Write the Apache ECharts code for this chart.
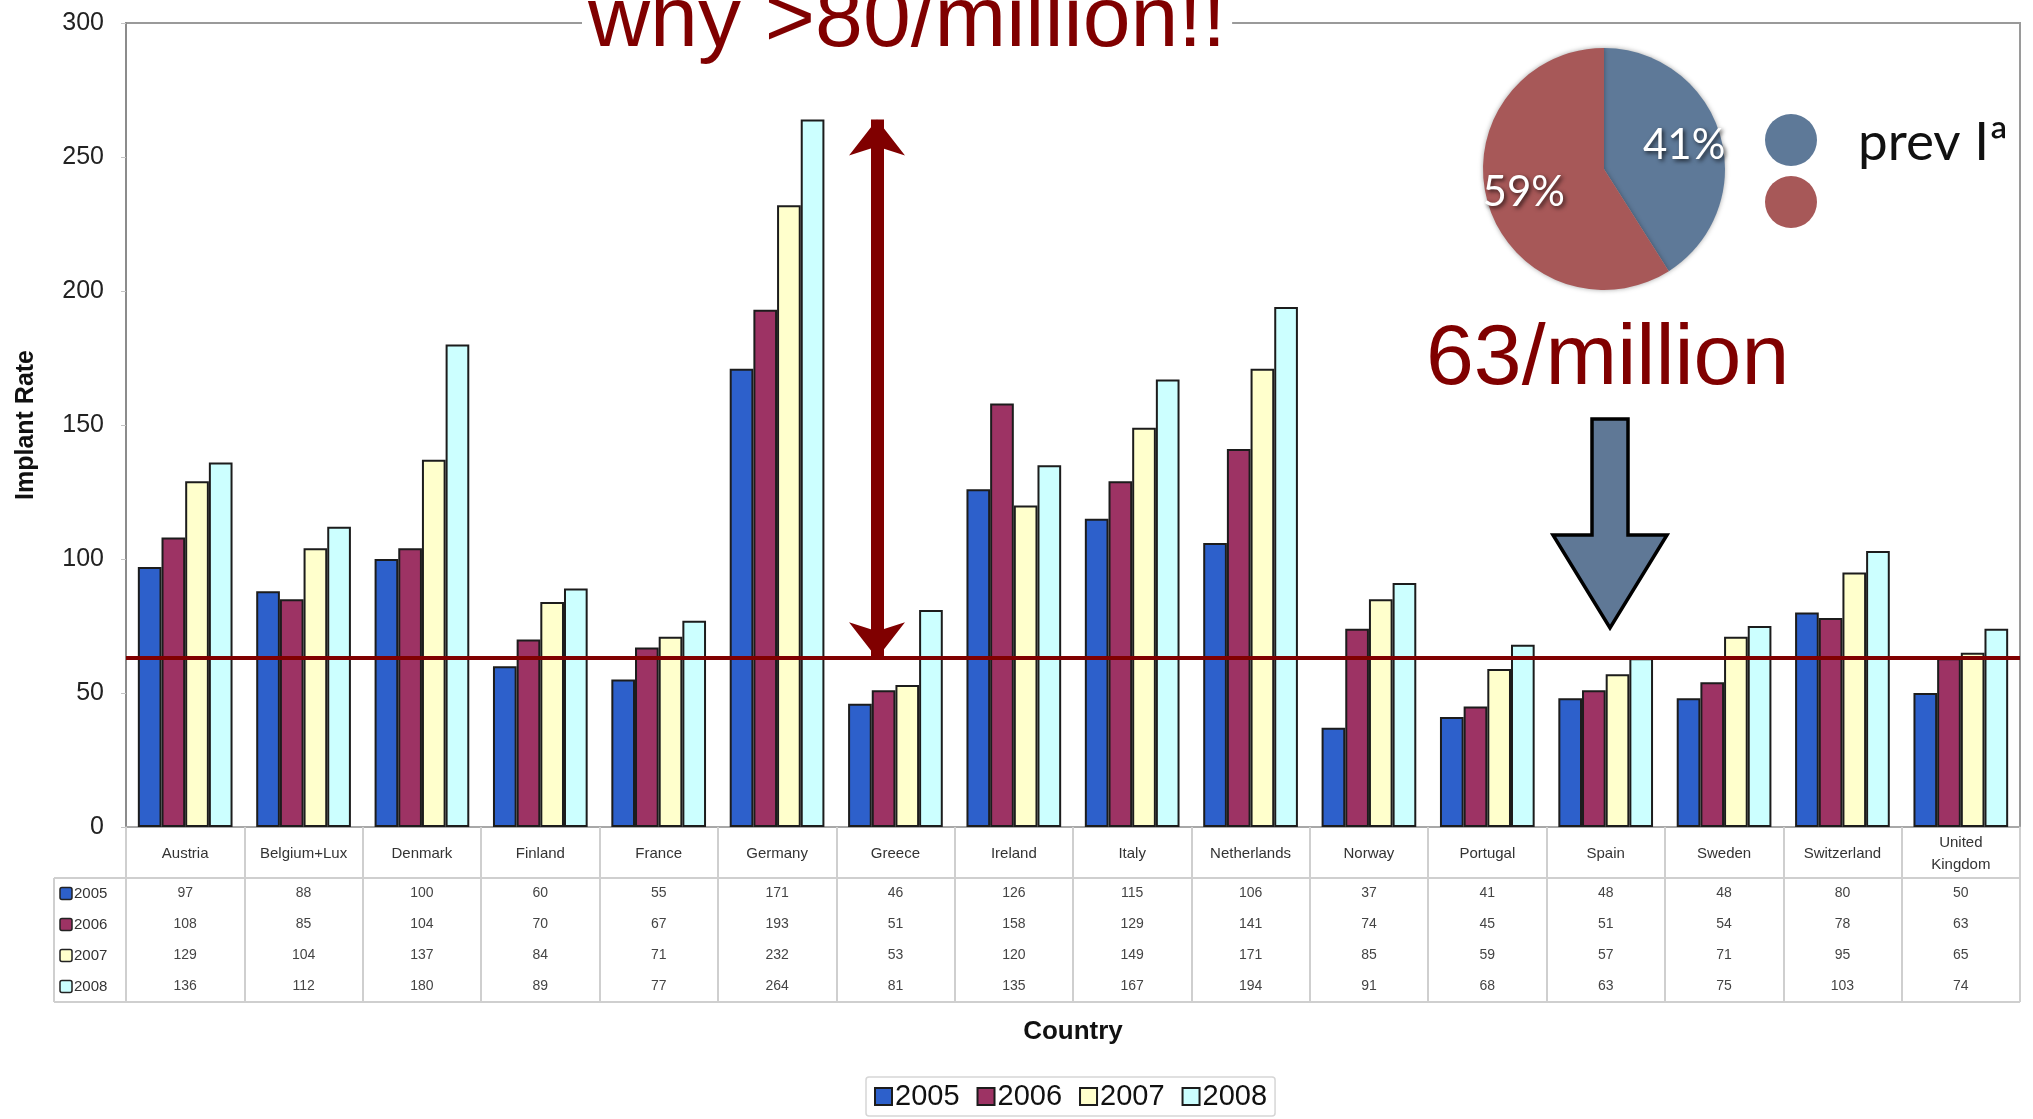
<!DOCTYPE html>
<html>
<head>
<meta charset="utf-8">
<title>Implant Rate by Country</title>
<script src="https://cdn.jsdelivr.net/npm/echarts@6/dist/echarts.min.js"></script>
<style>
  html, body { margin: 0; padding: 0; background: #fff; }
  #chart { width: 2033px; height: 1119px; }
</style>
</head>
<body>
<div id="chart"></div>
<script>
// Implant rate per million, by country and year
const countries = ['Austria', 'Belgium+Lux', 'Denmark', 'Finland', 'France', 'Germany', 'Greece',
  'Ireland', 'Italy', 'Netherlands', 'Norway', 'Portugal', 'Spain', 'Sweden', 'Switzerland', 'United\nKingdom'];
const years = ['2005', '2006', '2007', '2008'];
const rate2005 = [97, 88, 100, 60, 55, 171, 46, 126, 115, 106, 37, 41, 48, 48, 80, 50];
const rate2006 = [108, 85, 104, 70, 67, 193, 51, 158, 129, 141, 74, 45, 51, 54, 78, 63];
const rate2007 = [129, 104, 137, 84, 71, 232, 53, 120, 149, 171, 85, 59, 57, 71, 95, 65];
const rate2008 = [136, 112, 180, 89, 77, 264, 81, 135, 167, 194, 91, 68, 63, 75, 103, 74];
const rates = [rate2005, rate2006, rate2007, rate2008];

// value axis ticks
const yMin = 0, yMax = 300, yStep = 50;

// reference level and the gap annotation
const benchmark = 63;
const peakRate = Math.max(...rate2008);
const gapCountryIndex = countries.indexOf('Greece');

// inset pie: share of primary prevention
const pieNames = ['prev Iª', 'other'];
const pieShares = [41, 59];

// ---- styling ----
const yearColors = ['#2d60cb', '#9d3364', '#ffffcc', '#ccffff'];
const pieColors = ['#5e7998', '#a75858'];
const darkRed = '#800000';
const sansFont = '"Liberation Sans", Arial, sans-serif';

const G = { left: 126, right: 13, top: 23, bottom: 292 };
const W = 2033, H = 1119;
const plotBottom = H - G.bottom;      // 827
const headerBottom = plotBottom + 51; // 878
const rowH = 31;
const tableBottom = headerBottom + rowH * 4; // 1002
const tableLeft = 54;
const plotRight = W - G.right;

const chart = echarts.init(document.getElementById('chart'), null, { renderer: 'canvas' });

const series = years.map((y, i) => ({
  name: y,
  type: 'bar',
  xAxisIndex: 0,
  data: rates[i],
  barGap: '0%',
  barCategoryGap: '20%',
  itemStyle: { color: yearColors[i], borderColor: '#1c1c1c', borderWidth: 2 },
  emphasis: { disabled: true }
}));

// horizontal reference line
series[0].markLine = {
  silent: true,
  symbol: 'none',
  label: { show: false },
  lineStyle: { color: darkRed, width: 4, type: 'solid' },
  data: [{ yAxis: benchmark }]
};

// double-headed arrow spanning the gap
series[3].markLine = {
  silent: true,
  symbol: ['arrow', 'arrow'],
  symbolSize: [42, 36],
  label: { show: false },
  lineStyle: { color: darkRed, width: 13, type: 'solid', opacity: 1 },
  itemStyle: { color: darkRed },
  data: [[
    { coord: [gapCountryIndex, peakRate], x: 877 },
    { coord: [gapCountryIndex, benchmark], x: 877 }
  ]]
};

// inset pie
series.push({
  type: 'pie',
  silent: true,
  center: [1604, 169],
  radius: 121,
  startAngle: 90,
  clockwise: true,
  label: { show: false },
  labelLine: { show: false },
  emphasis: { disabled: true },
  itemStyle: { borderWidth: 0, shadowColor: 'rgba(0,0,0,0.35)', shadowBlur: 5 },
  data: pieNames.map((n, i) => ({ name: n, value: pieShares[i], itemStyle: { color: pieColors[i] } }))
});
series.push({
  type: 'pie',
  silent: true,
  center: [1604, 169],
  radius: [40, 121],
  startAngle: 90,
  clockwise: true,
  itemStyle: { color: 'rgba(0,0,0,0)' },
  emphasis: { disabled: true },
  labelLine: { show: false },
  label: {
    show: true,
    position: 'inside',
    formatter: p => p.value + '%',
    color: '#fff',
    fontFamily: 'Lato, "Open Sans", sans-serif',
    fontSize: 42,
    textShadowColor: 'rgba(0,0,0,0.7)',
    textShadowBlur: 4,
    textShadowOffsetX: 2,
    textShadowOffsetY: 2
  },
  data: pieNames.map((n, i) => ({ name: n, value: pieShares[i] }))
});

// table row labels and rules
const tableGraphics = [
  { type: 'line', shape: { x1: tableLeft, y1: headerBottom, x2: plotRight, y2: headerBottom }, style: { stroke: '#cfcfcf', lineWidth: 2 } },
  { type: 'line', shape: { x1: tableLeft, y1: tableBottom, x2: plotRight, y2: tableBottom }, style: { stroke: '#cfcfcf', lineWidth: 2 } },
  { type: 'line', shape: { x1: tableLeft, y1: headerBottom, x2: tableLeft, y2: tableBottom }, style: { stroke: '#cfcfcf', lineWidth: 2 } }
];
years.forEach((y, i) => {
  const cy = headerBottom + rowH * i + rowH / 2;
  tableGraphics.push({
    type: 'rect', shape: { x: 60, y: cy - 6, width: 12, height: 12, r: 2 },
    style: { fill: yearColors[i], stroke: '#222', lineWidth: 1.5 }
  });
  tableGraphics.push({
    type: 'text', x: 74, y: cy,
    style: { text: y, fill: '#333', font: '15px ' + sansFont, verticalAlign: 'middle', align: 'left' }
  });
});

const option = {
  animation: false,
  backgroundColor: '#fff',
  textStyle: { fontFamily: sansFont },
  grid: { left: G.left, right: G.right, top: G.top, bottom: G.bottom, show: true, borderColor: '#9a9a9a', borderWidth: 2, containLabel: false },
  legend: {
    data: years,
    left: 866,
    top: 1077,
    padding: [5, 8],
    itemWidth: 17,
    itemHeight: 17,
    itemGap: 17,
    icon: 'rect',
    borderColor: '#d6d6d6',
    borderWidth: 1.5,
    borderRadius: 3,
    selectedMode: false,
    textStyle: { fontSize: 29, color: '#111', fontFamily: sansFont, padding: [0, 0, 0, -2] }
  },
  xAxis: [
    {
      type: 'category',
      data: countries,
      name: 'Country',
      nameLocation: 'middle',
      nameGap: 192,
      nameTextStyle: { fontSize: 26, fontWeight: 'bold', color: '#111' },
      axisLine: { lineStyle: { color: '#a8a8a8', width: 2 } },
      axisTick: { show: true, length: tableBottom - plotBottom, lineStyle: { color: '#cfcfcf', width: 2 } },
      axisLabel: {
        interval: 0, margin: 27, fontSize: 15, color: '#333', lineHeight: 22,
        verticalAlign: 'middle', hideOverlap: false
      }
    },
    {
      type: 'category',
      data: countries,
      position: 'bottom',
      axisLine: { show: false },
      axisTick: { show: false },
      axisLabel: {
        interval: 0, margin: 51, fontSize: 14, color: '#444', lineHeight: rowH,
        verticalAlign: 'top', hideOverlap: false,
        formatter: (v, idx) => rates.map(r => r[idx]).join('\n')
      }
    }
  ],
  yAxis: {
    type: 'value',
    min: yMin, max: yMax, interval: yStep,
    name: 'Implant Rate',
    nameLocation: 'middle',
    nameRotate: 90,
    nameGap: 87,
    nameTextStyle: { fontSize: 25, fontWeight: 'bold', color: '#111' },
    axisLine: { show: true, lineStyle: { color: '#8c8c8c', width: 2 } },
    axisTick: { show: true, length: 5, lineStyle: { color: '#c4c4c4' } },
    splitLine: { show: false },
    axisLabel: { fontSize: 25, color: '#222', margin: 22 }
  },
  graphic: [
    {
      type: 'text', x: 582, y: 22, z: 100,
      style: {
        text: 'why >80/million!!', fill: darkRed, font: '86px ' + sansFont,
        verticalAlign: 'middle', align: 'left', backgroundColor: '#fff', padding: [0, 6]
      }
    },
    {
      type: 'text', x: 1426, y: 360, z: 100,
      style: { text: '63/million', fill: darkRed, font: '86px ' + sansFont, verticalAlign: 'middle', align: 'left' }
    },
    {
      type: 'polygon', z: 100,
      shape: { points: [[1592, 419], [1628, 419], [1628, 535], [1667, 535], [1610, 628], [1553, 535], [1592, 535]] },
      style: { fill: '#5f7896', stroke: '#000', lineWidth: 3.5, lineJoin: 'miter' }
    },
    { type: 'circle', z: 100, shape: { cx: 1791, cy: 140, r: 26 }, style: { fill: pieColors[0] } },
    { type: 'circle', z: 100, shape: { cx: 1791, cy: 202, r: 26 }, style: { fill: pieColors[1] } },
    {
      type: 'text', x: 1858, y: 143, z: 100,
      style: { text: pieNames[0], fill: '#111', font: '53px Lato, "Open Sans", sans-serif', verticalAlign: 'middle', align: 'left' }
    },
    ...tableGraphics
  ],
  series: series
};

chart.setOption(option);
</script>
</body>
</html>
